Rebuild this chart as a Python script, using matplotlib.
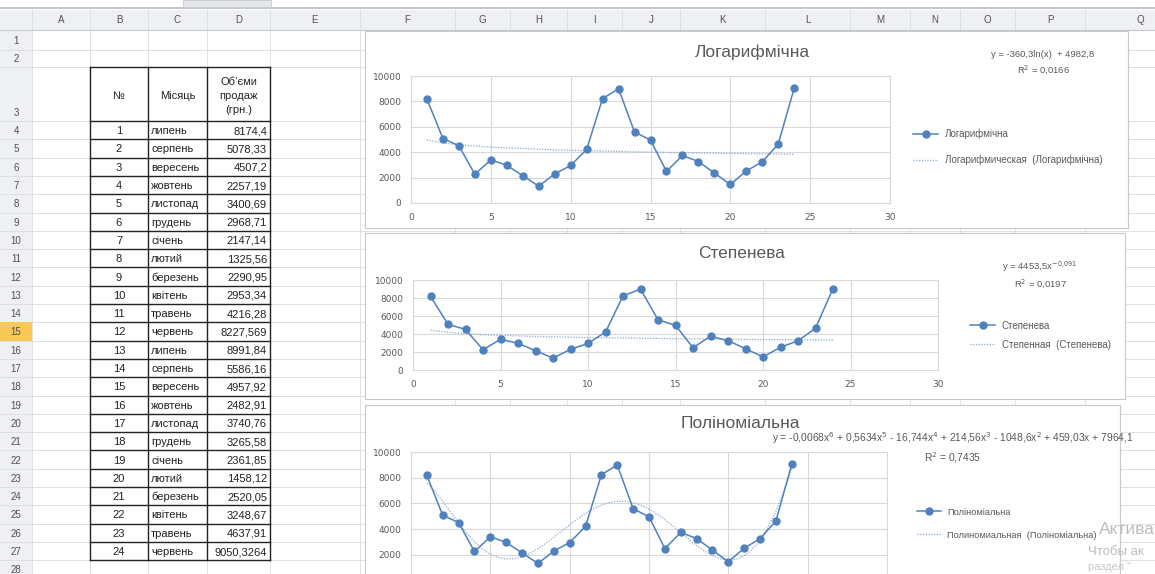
import matplotlib
matplotlib.use("Agg")
import matplotlib.pyplot as plt
import numpy as np
from matplotlib.patches import Rectangle

plt.rcParams['font.family'] = ['Liberation Sans', 'DejaVu Sans']

W, H = 1155, 574

# sales table
nums = [1, 2, 3, 4, 5, 6, 7, 8, 9, 10, 11, 12,
        13, 14, 15, 16, 17, 18, 19, 20, 21, 22, 23, 24]
months = ["липень", "серпень", "вересень", "жовтень", "листопад", "грудень",
          "січень", "лютий", "березень", "квітень", "травень", "червень",
          "липень", "серпень", "вересень", "жовтень", "листопад", "грудень",
          "січень", "лютий", "березень", "квітень", "травень", "червень"]
sales = [8174.4, 5078.33, 4507.2, 2257.19, 3400.69, 2968.71,
         2147.14, 1325.56, 2290.95, 2953.34, 4216.28, 8227.569,
         8991.84, 5586.16, 4957.92, 2482.91, 3740.76, 3265.58,
         2361.85, 1458.12, 2520.05, 3248.67, 4637.91, 9050.3264]
header = ["№", "Місяць", "Об’єми\nпродаж\n(грн.)"]

col_letters = list("ABCDEFGHIJKLMNOPQ")
x_ticks = [0, 5, 10, 15, 20, 25, 30]
y_ticks = [0, 2000, 4000, 6000, 8000, 10000]

# sheet geometry in pixels
col_edges = [32, 90, 148, 207, 270, 360, 455, 510, 567, 622, 680, 765, 850, 910, 960, 1015, 1085, 1195]
row_edges = [30, 50, 67, 121] + [121 + 18.3 * k for k in range(1, 26)]

BLUE = "#4F81BD"
TREND = "#8DA9CF"
GRID = "#D9D9D9"
TXT = "#595959"


def xl(v):
    v = round(float(f"{v:.5g}"), 4)
    s = f"{v:.4f}".rstrip("0").rstrip(".")
    return s.replace(".", ",")


def r2(obs, pred):
    obs = np.asarray(obs)
    return 1 - np.sum((obs - pred) ** 2) / np.sum((obs - obs.mean()) ** 2)


x = np.array(nums, dtype=float)
y = np.array(sales)

# logarithmic trend
lb, la = np.polyfit(np.log(x), y, 1)
log_r2 = r2(y, lb * np.log(x) + la)
# power trend (fit on ln y, like the spreadsheet does)
pb, pln = np.polyfit(np.log(x), np.log(y), 1)
pa = np.exp(pln)
pow_r2 = r2(np.log(y), pb * np.log(x) + pln)
# 6th order polynomial trend
pc = np.polyfit(x, y, 6)
poly_r2 = r2(y, np.polyval(pc, x))

fig = plt.figure(figsize=(W / 100, H / 100), dpi=100)
bg = fig.add_axes([0, 0, 1, 1])
bg.set_xlim(0, W)
bg.set_ylim(H, 0)
bg.axis("off")

# headers
bg.add_patch(Rectangle((0, 10), W, 20, fc="#EEF0F3", ec="none", zorder=1))
bg.add_patch(Rectangle((0, 10), 32, H, fc="#EEF0F3", ec="none", zorder=1))
bg.plot([0, W], [8, 8], color="#B8BCC2", lw=1.2, zorder=2)
bg.add_patch(Rectangle((183, 0), 88, 7, fc="#E4E6EA", ec="#C5C8CC", lw=0.6, zorder=2))
for xe in col_edges:
    bg.plot([xe, xe], [10, H], color="#DADCDD", lw=0.6, zorder=2)
for ye in row_edges:
    bg.plot([0, W], [ye, ye], color="#DADCDD", lw=0.6, zorder=2)
bg.plot([0, W], [30, 30], color="#C5C8CC", lw=0.8, zorder=2)

for i, c in enumerate(col_letters):
    bg.text((col_edges[i] + col_edges[i + 1]) / 2, 20, c, ha="center", va="center",
            fontsize=7, color="#505050", zorder=3)
for r in range(1, len(row_edges)):
    top, bot = row_edges[r - 1], row_edges[r]
    if r == 15:
        bg.add_patch(Rectangle((0, top), 32, bot - top, fc="#F8C957", ec="none", zorder=2))
    yc = bot - 8 if r == 3 else (top + bot) / 2 + 1
    bg.text(16, yc, str(r), ha="center", va="center", fontsize=7, color="#505050", zorder=3)

# table B3:D27
t_left, t_right = col_edges[1], col_edges[4]
t_top, t_bot = row_edges[2], row_edges[27]
for xe in col_edges[1:5]:
    bg.plot([xe, xe], [t_top, t_bot], color="#222222", lw=1.0, zorder=4)
for ye in row_edges[2:28]:
    bg.plot([t_left, t_right], [ye, ye], color="#222222", lw=1.0, zorder=4)

hy = (row_edges[2] + row_edges[3]) / 2
bg.text((col_edges[1] + col_edges[2]) / 2, hy + 2, header[0], ha="center", va="center",
        fontsize=8, color="#222222", zorder=5)
bg.text((col_edges[2] + col_edges[3]) / 2, hy + 2, header[1], ha="center", va="center",
        fontsize=8, color="#222222", zorder=5)
bg.text((col_edges[3] + col_edges[4]) / 2, hy + 2, header[2], ha="center", va="center",
        fontsize=8, color="#222222", linespacing=1.5, zorder=5)

for i, (n, m, v) in enumerate(zip(nums, months, sales)):
    yc = (row_edges[3 + i] + row_edges[4 + i]) / 2 + 1
    bg.text((col_edges[1] + col_edges[2]) / 2, yc, str(n), ha="center", va="center",
            fontsize=8, color="#222222", zorder=5)
    bg.text(col_edges[2] + 3, yc, m, ha="left", va="center",
            fontsize=8, color="#222222", zorder=5)
    bg.text(col_edges[4] - 3, yc, str(v).replace(".", ","), ha="right", va="center",
            fontsize=8, color="#222222", zorder=5)


def frac(x0, y0, x1, y1):
    return [x0 / W, 1 - y1 / H, (x1 - x0) / W, (y1 - y0) / H]


def chart(box, area, title, title_xy, eq, eq_xy, leg_name, trend_name, leg_xy, leg_gap,
          trend_x, trend_y, bottom_labels=True, eq_size=6.8, leg_size=7):
    bx0, by0, bx1, by1 = box
    bg.add_patch(Rectangle((bx0, by0), bx1 - bx0, by1 - by0, fc="white", ec="#C8C8C8",
                           lw=0.8, zorder=6))
    bg.text(title_xy[0], title_xy[1], title, ha="center", va="center", fontsize=12.5,
            color=TXT, zorder=7)
    bg.text(eq_xy[0], eq_xy[1], eq, ha="center", va="top", fontsize=eq_size, color=TXT,
            linespacing=1.4, zorder=7)
    ax = fig.add_axes(frac(*area))
    ax.set_facecolor("white")
    ax.set_xlim(0, 30)
    ax.set_ylim(0, 10000)
    ax.set_xticks(x_ticks)
    ax.set_yticks(y_ticks)
    ax.grid(True, color=GRID, lw=0.8)
    ax.set_axisbelow(True)
    for s in ax.spines.values():
        s.set_color(GRID)
        s.set_linewidth(0.8)
    ax.tick_params(length=0, labelcolor=TXT, pad=7)
    for lab in ax.get_xticklabels() + ax.get_yticklabels():
        lab.set_fontfamily("DejaVu Sans")
        lab.set_fontsize(6.5)
    if not bottom_labels:
        ax.tick_params(axis="x", labelbottom=False)
        ax.get_yticklabels()[0].set_visible(False)
    ln, = ax.plot(x, y, color=BLUE, lw=1.1, marker="o", markersize=5,
                  markerfacecolor=BLUE, markeredgecolor=BLUE, zorder=4, clip_on=False)
    tr, = ax.plot(trend_x, trend_y, color=TREND, lw=0.9, ls=(0, (1, 1.2)), zorder=3)
    fig.legend([ln, tr], [leg_name, trend_name], loc="upper left",
               bbox_to_anchor=(leg_xy[0] / W, 1 - leg_xy[1] / H), frameon=False,
               fontsize=leg_size, handlelength=2.6, labelspacing=leg_gap, labelcolor=TXT,
               borderpad=0, handletextpad=0.7)
    return ax


xs = np.linspace(1, 24, 200)

eq1 = f"y = {lb:.1f}ln(x)  + {la:.1f}\nR$^2$ = {log_r2:.4f}".replace(".", ",")
chart((365, 31, 1128, 228), (411, 76, 890, 203), "Логарифмічна", (752, 52),
      eq1, (1043, 50), "Логарифмічна", "Логарифмическая  (Логарифмічна)",
      (908, 124), 1.6, xs, lb * np.log(xs) + la)

eq2 = (f"y = {xl(pa)}x$^{{{f'{pb:.3f}'.replace('.', '{,}')}}}$\n"
       f"R$^2$ = {pow_r2:.4f}".replace(".", ","))
chart((365, 233, 1125, 399), (413, 280, 938, 370), "Степенева", (742, 254),
      eq2, (1040, 259), "Степенева", "Степенная  (Степенева)",
      (965, 316), 0.9, xs, pa * xs ** pb)

terms = []
for k, c in enumerate(pc):
    p = 6 - k
    sgn = "-" if c < 0 else "+"
    body = xl(abs(c))
    if p > 1:
        body += f"x$^{p}$"
    elif p == 1:
        body += "x"
    terms.append((sgn, body))
eq3 = ("y = " + ("-" if terms[0][0] == "-" else "") + terms[0][1]
       + "".join(f" {s} {b}" for s, b in terms[1:])
       + f"\nR$^2$ = {xl(poly_r2)}")
chart((365, 405, 1120, 600), (411, 452, 887, 580.5), "Поліноміальна", (740, 423),
      eq3, (953, 430), "Поліноміальна", "Полиномиальная  (Поліноміальна)",
      (912, 503), 1.5, xs, np.polyval(pc, xs), bottom_labels=False,
      eq_size=7.4, leg_size=6.7)

# activation watermark
bg.text(1099, 529, "Актива", fontsize=12.5, color="#BDBDBD", va="center", zorder=8)
bg.text(1088, 552, "Чтобы ак", fontsize=9.5, color="#BDBDBD", va="center", zorder=8)
bg.text(1088, 567, "раздел \"", fontsize=8, color="#C8C8C8", va="center", zorder=8)

fig.savefig("out.png", dpi=100)
